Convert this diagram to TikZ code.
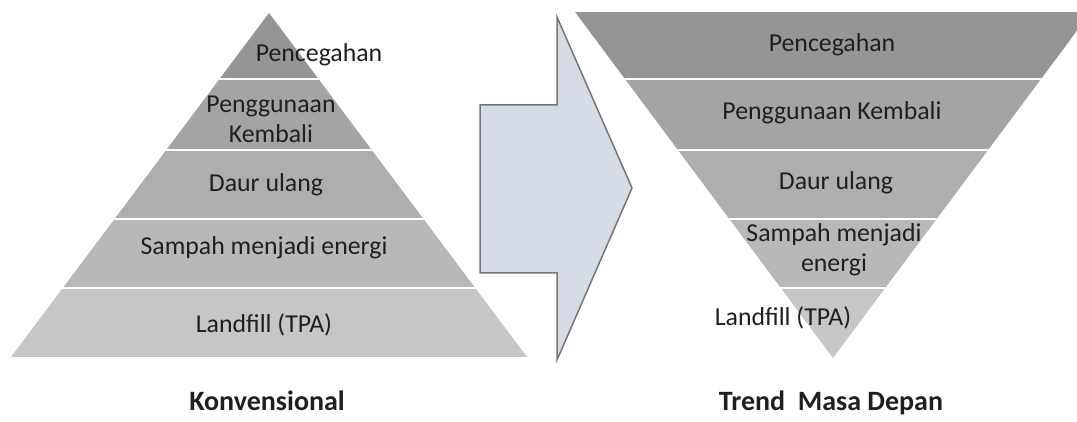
\documentclass[tikz,border=0pt]{standalone}
\usepackage{fontspec}
\setmainfont{Carlito}
\definecolor{bandA}{HTML}{959595}
\definecolor{bandB}{HTML}{A4A4A4}
\definecolor{bandC}{HTML}{AEAEAE}
\definecolor{bandD}{HTML}{B8B8B8}
\definecolor{bandE}{HTML}{C6C6C6}
\definecolor{arrowfill}{HTML}{D6DCE5}
\definecolor{arrowline}{HTML}{767676}
\tikzset{
  arrowbox/.style={fill=arrowfill,draw=arrowline,line width=1.5pt,line join=miter},
  title/.style={font=\fontsize{28}{33}\selectfont\bfseries}
}
\begin{document}
\begin{tikzpicture}
    [x=1pt,y=-1pt,every node/.style={font=\fontsize{25.8}{30}\selectfont,anchor=base,align=center,text=black!88}]
    \useasboundingbox (0,0) rectangle (1077,422);

    % left pyramid
    \begin{scope}
    \clip (269,13) -- (527,357) -- (11,357) -- cycle;
    \foreach \ya/\yb/\c in {13/79/bandA,79/150/bandB,150/219/bandC,219/288/bandD,288/357/bandE}
    \fill[\c] (0,\ya) rectangle (540,\yb);
    \foreach \y in {79,150,219,288} \draw[white,line width=2.5pt] (0,\y) -- (540,\y);
    \end{scope}

    % arrow
    \draw[arrowbox] (480,105) -- (557,105) -- (557,17) -- (632,188)
        -- (557,360) -- (557,273) -- (480,273) -- cycle;

    % right pyramid
    \begin{scope}
    \clip (575,12) -- (1091,12) -- (833,358) -- cycle;
    \foreach \ya/\yb/\c in {12/79/bandA,79/150/bandB,150/219/bandC,219/288/bandD,288/358/bandE}
    \fill[\c] (560,\ya) rectangle (1100,\yb);
    \foreach \y in {79,150,219,288} \draw[white,line width=2.5pt] (560,\y) -- (1100,\y);
    \end{scope}

    \node (lPrev)     at (319,62)  {Pencegahan};
    \node (lReuse)    at (271,143) {Penggunaan\\Kembali};
    \node (lRecycle)  at (266,192) {Daur ulang};
    \node (lEnergy)   at (264,255) {Sampah menjadi energi};
    \node (lLandfill) at (264,332) {Landfill (TPA)};

    \node (rPrev)     at (832,52)  {Pencegahan};
    \node (rReuse)    at (832,120) {Penggunaan Kembali};
    \node (rRecycle)  at (836,190) {Daur ulang};
    \node (rEnergy)   at (834,272) {Sampah menjadi\\energi};
    \node (rLandfill) at (783,325) {Landfill (TPA)};

    \node[title] (tConv)  at (267,410) {Konvensional};
    \node[title] (tTrend) at (831,410) {Trend\ \ Masa Depan};
\end{tikzpicture}
\end{document}
